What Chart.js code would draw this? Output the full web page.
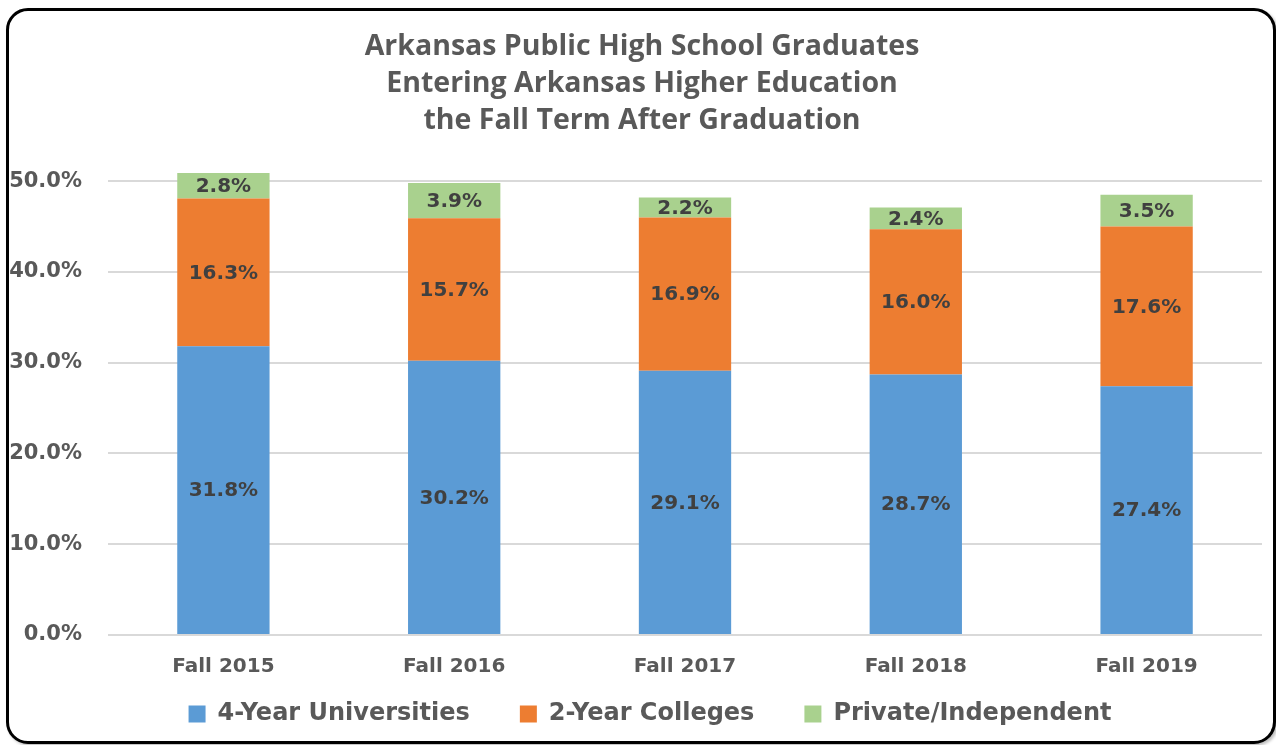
<!DOCTYPE html>
<html>
<head>
<meta charset="utf-8">
<script src="https://cdn.jsdelivr.net/npm/chart.js@4.4.1/dist/chart.umd.min.js"></script>
<style>
  html, body { margin: 0; padding: 0; background: #fff; }
  body { width: 1276px; height: 745px; position: relative; overflow: hidden; }
  #frame {
    position: absolute; left: 6px; top: 8px; width: 1264px; height: 730px;
    border: 3px solid #000; border-radius: 22px; background: #fff;
    box-shadow: 2px 2px 3px rgba(0,0,0,0.25);
  }
  #wrap { position: absolute; left: 0; top: 0; width: 1276px; height: 745px; }
</style>
</head>
<body>
<div id="frame"></div>
<div id="wrap"><canvas id="chart" width="1276" height="745"></canvas></div>
<script>
// categories and series (percent)
const years = ['Fall 2015', 'Fall 2016', 'Fall 2017', 'Fall 2018', 'Fall 2019'];
const fourYear = [31.8, 30.2, 29.1, 28.7, 27.4];
const twoYear = [16.3, 15.7, 16.9, 16.0, 17.6];
const privateInd = [2.8, 3.9, 2.2, 2.4, 3.5];
const titleLines = [
  'Arkansas Public High School Graduates',
  'Entering Arkansas Higher Education',
  'the Fall Term After Graduation'
];

const FONT = "'DejaVu Sans', Verdana, sans-serif";

// draws the value in the middle of each bar segment
const segmentLabels = {
  id: 'segmentLabels',
  afterDatasetsDraw(chart) {
    const c = chart.ctx;
    c.save();
    c.font = 'bold 20px ' + FONT;
    c.fillStyle = '#404040';
    c.textAlign = 'center';
    c.textBaseline = 'middle';
    chart.data.datasets.forEach((ds, i) => {
      chart.getDatasetMeta(i).data.forEach((bar, j) => {
        const mid = (bar.y + bar.base) / 2;
        c.fillText(ds.data[j].toFixed(1) + '%', bar.x, mid + 1);
      });
    });
    c.restore();
  }
};

// x axis is squeezed so the legend can sit close; widen its label clip box again
// and nudge title / legend a bit right like the original
const layoutTweaks = {
  id: 'layoutTweaks',
  afterLayout(chart) {
    const x = chart.scales.x;
    x.bottom = x.top + 60;
    x.height = 60;
    chart.legend.left += 14;
    chart.legend.right += 14;
    chart.titleBlock.left += 6;
    chart.titleBlock.right += 6;
  }
};

const ctx = document.getElementById('chart').getContext('2d');
new Chart(ctx, {
  type: 'bar',
  data: {
    labels: years,
    datasets: [
      { label: '4-Year Universities', data: fourYear, backgroundColor: '#5B9BD5' },
      { label: '2-Year Colleges', data: twoYear, backgroundColor: '#ED7D31' },
      { label: 'Private/Independent', data: privateInd, backgroundColor: '#A9D18E' }
    ]
  },
  options: {
    responsive: false,
    animation: false,
    layout: { padding: { left: 10, right: 14, top: 28, bottom: 9 } },
    datasets: { bar: { barPercentage: 0.8, categoryPercentage: 0.5, clip: false, borderWidth: 0 } },
    plugins: {
      title: {
        display: true,
        text: titleLines,
        color: '#595959',
        font: { family: "'Open Sans', sans-serif", weight: 'bold', size: 28.5, lineHeight: 1.3 },
        padding: { top: 0, bottom: 42 }
      },
      legend: {
        position: 'bottom',
        labels: {
          color: '#595959',
          font: { family: FONT, weight: 'bold', size: 24 },
          boxWidth: 17, boxHeight: 17, padding: 50
        }
      },
      tooltip: { enabled: false }
    },
    scales: {
      x: {
        stacked: true,
        grid: { display: false, drawTicks: false },
        border: { display: false },
        ticks: { color: '#595959', font: { family: FONT, weight: 'bold', size: 20 }, padding: 20 },
        afterFit(scale) { scale.height = 17; }
      },
      y: {
        stacked: true,
        min: 0, max: 50,
        grid: { color: '#D9D9D9', lineWidth: 2, drawTicks: false },
        border: { display: false },
        ticks: {
          stepSize: 10,
          color: '#595959',
          font: { family: FONT, weight: 'bold', size: 21 },
          padding: 26,
          callback: v => v.toFixed(1) + '%'
        },
        afterFit(scale) { scale.width = 98; }
      }
    }
  },
  plugins: [segmentLabels, layoutTweaks]
});
</script>
</body>
</html>
